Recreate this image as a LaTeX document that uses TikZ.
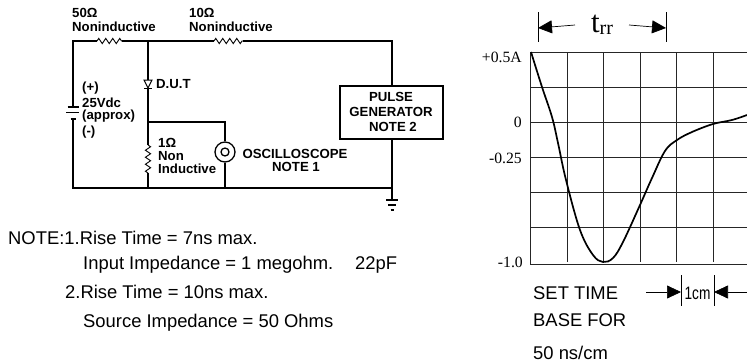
\documentclass[tikz,border=0pt]{standalone}
\usepackage{fontspec}
\setmainfont{Liberation Sans}
\newfontfamily\serifnum{Liberation Serif}
\usetikzlibrary{arrows.meta}
\usetikzlibrary{decorations.pathmorphing}
\tikzset{wire/.style={line width=1.3pt}}
\tikzset{resist/.style={line width=0.9pt, decorate, decoration={zigzag, segment length=7, amplitude=2.6}}}
\tikzset{gridline/.style={line width=0.8pt, black!85}}
\tikzset{part/.style={font=\fontsize{13.2}{15}\selectfont\bfseries, inner sep=0pt}}
\tikzset{note/.style={font=\fontsize{18.4}{20}\selectfont, inner sep=0pt, anchor=west}}
\tikzset{level/.style={font=\serifnum\fontsize{15.7}{18}\selectfont, inner sep=0pt, anchor=east}}
\tikzset{bigtip/.style={-{Triangle[length=14,width=13]}, line width=0.7pt}}

\begin{document}
\begin{tikzpicture}[x=1pt, y=-1pt]
    \useasboundingbox (0,0) rectangle (747,364);
    % circuit
    \coordinate (tl) at (73,41);
    \coordinate (tm) at (148,41);
    \coordinate (tr) at (392,41);
    \coordinate (bl) at (73,188);
    \coordinate (bm) at (148,188);
    \coordinate (bs) at (225,188);
    \coordinate (br) at (392,188);
    \coordinate (ml) at (148,122);
    \coordinate (ms) at (225,122);
    \coordinate (r1a) at (97,41);
    \coordinate (r1b) at (122,41);
    \coordinate (r2a) at (214,41);
    \coordinate (r2b) at (243,41);
    \coordinate (r3a) at (148,145);
    \coordinate (r3b) at (148,173);
    \coordinate (dtop) at (148,80);
    \coordinate (dtip) at (148,88);
    \coordinate (bat1) at (73,107);
    \coordinate (bat3) at (73,119);
    \coordinate (gnd) at (392,200);
    \node[draw, wire, minimum width=103, minimum height=53, inner sep=0pt] (pulse) at (391.5,112.5) {};
    \node[draw, circle, wire, minimum size=20, inner sep=0pt] (scope) at (225,152) {};
    \node[draw, circle, wire, minimum size=8, inner sep=0pt] (scopein) at (225,152) {};
    \draw[wire] (bat1) -- (tl) -- (r1a);
    \draw[wire] (bat3) -- (bl) -- (br);
    \draw[wire] (r1b) -- (r2a);
    \draw[wire] (r2b) -- (tr) -- (pulse.north -| tr);
    \draw[wire] (pulse.south -| br) -- (br) -- (gnd);
    \draw[wire] (tm) -- (dtop);
    \draw[wire] (dtip) -- (r3a);
    \draw[wire] (r3b) -- (bm);
    \draw[wire] (ml) -- (ms) -- (scope);
    \draw[wire] (scope) -- (bs);
    \draw[resist] (r1a) -- (r1b);
    \draw[resist] (r2a) -- (r2b);
    \draw[resist] (r3a) -- (r3b);
    \draw[line width=1pt] (144,80) -- (152,80) -- (dtip) -- cycle;
    \draw[line width=1pt] (144,88) -- (152,88);
    \draw[wire] (67.5,107) -- (79,107);
    \draw[wire] (66,112.5) -- (79,112.5);
    \draw[wire] (70.5,119) -- (76,119);
    \draw[wire] (386,200) -- (398,200);
    \draw[wire] (388,205) -- (396,205);
    \draw[wire] (390.5,210) -- (393.5,210);
    % circuit labels
    \node[part, anchor=west] (lbla) at (72,13) {50Ω};
    \node[part, anchor=west] (lblb) at (72,27) {Noninductive};
    \node[part, anchor=west] (lblc) at (189,13) {10Ω};
    \node[part, anchor=west] (lbld) at (189,27) {Noninductive};
    \node[part, anchor=west] (batplus) at (82,88) {(+)};
    \node[part, anchor=west] (batv) at (82,103) {25Vdc};
    \node[part, anchor=west] (batapp) at (82,116) {(approx)};
    \node[part, anchor=west] (batminus) at (82,132) {(-)};
    \node[part, anchor=west] (dut) at (156,84) {D.U.T};
    \node[part, anchor=west] (ohm) at (158,143) {1Ω};
    \node[part, anchor=west] (non) at (158,156) {Non};
    \node[part, anchor=west] (ind) at (158,169) {Inductive};
    \node[part] (osc) at (295,154) {OSCILLOSCOPE};
    \node[part] (osca) at (296,167) {NOTE 1};
    \node[part] (pulsea) at (391,97) {PULSE};
    \node[part] (pulseb) at (391,112) {GENERATOR};
    \node[part] (pulsec) at (393,127) {NOTE 2};
    % notes
    \node[note] (noteone) at (8,238) {NOTE:1.Rise Time = 7ns max.};
    \node[note] (notetwo) at (83,265) {Input Impedance = 1 megohm.};
    \node[note] (notepf) at (355,265) {22pF};
    \node[note] (notethree) at (65,292) {2.Rise Time = 10ns max.};
    \node[note] (notefour) at (83,323) {Source Impedance = 50 Ohms};
    % scope grid
    \foreach \gx in {567,603,640,676,713} {
        \draw[gridline] (\gx,52) -- (\gx,262);
    }
    \foreach \gy in {52,87,122,157,192,227,264} {
        \draw[gridline] (530,\gy) -- (747,\gy);
    }
    \draw[gridline] (530,52) -- (530,264);
    \draw[line width=1.7pt] plot[smooth, tension=0.6] coordinates {(531,52) (542,87) (552,117) (558,143) (566,180) (580,230) (593,255) (603,262) (613,258) (623,242) (640,205) (652,178) (665,151) (677,140) (692,132) (713,124) (732,120) (747,115)};
    \node[level] (lvla) at (522,57) {+0.5A};
    \node[level] (lvlb) at (522,122) {0};
    \node[level] (lvlc) at (522,158) {-0.25};
    \node[level] (lvld) at (523,262) {-1.0};
    % t_rr
    \coordinate (ta) at (538,28);
    \coordinate (tb) at (666,28);
    \node[font=\serifnum\fontsize{31}{34}\selectfont, inner sep=0pt] (trr) at (602,25) {t\raisebox{-1.5pt}{\fontsize{20}{22}\selectfont rr}};
    \draw[line width=0.7pt] (538,12) -- (538,42);
    \draw[line width=0.7pt] (666,12) -- (666,42);
    \draw[bigtip] (trr.west -| 575,28) -- (ta);
    \draw[bigtip] (trr.east -| 629,28) -- (tb);
    % 1cm
    \coordinate (ca) at (681,292);
    \coordinate (cb) at (714,292);
    \coordinate (cc) at (646,292);
    \coordinate (cd) at (747,292);
    \draw[line width=0.7pt] (681,275) -- (681,306);
    \draw[line width=0.7pt] (714,275) -- (714,306);
    \draw[bigtip] (cc) -- (ca);
    \draw[bigtip] (cd) -- (cb);
    \node[font=\fontsize{18}{20}\selectfont, inner sep=0pt, xscale=0.76] (cm) at (697.5,293) {1cm};
    \node[note] (seta) at (533,293) {SET TIME};
    \node[note] (setb) at (533,320) {BASE FOR};
    \node[note] (setc) at (533,353) {50 ns/cm};
\end{tikzpicture}
\end{document}
